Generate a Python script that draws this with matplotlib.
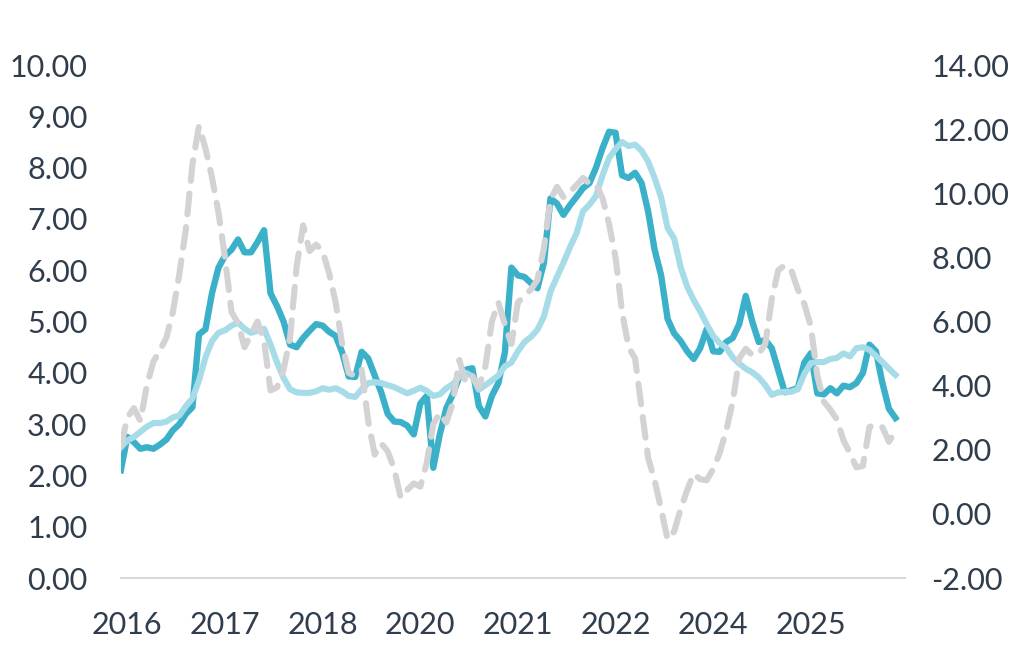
import matplotlib
matplotlib.use("Agg")
import matplotlib.pyplot as plt

# monthly series
teal = [2.10, 2.75, 2.65, 2.52, 2.55, 2.52, 2.60, 2.70, 2.88, 3.00,
        3.20, 3.33, 4.75, 4.85, 5.55, 6.05, 6.28, 6.40, 6.60, 6.35,
        6.35, 6.55, 6.78, 5.55, 5.30, 5.00, 4.55, 4.50, 4.68, 4.82,
        4.95, 4.92, 4.80, 4.72, 4.40, 3.93, 3.92, 4.41, 4.28, 3.95,
        3.62, 3.20, 3.05, 3.04, 2.97, 2.80, 3.40, 3.55, 2.15, 2.80,
        3.31, 3.58, 3.92, 4.06, 4.09, 3.35, 3.15, 3.55, 3.80, 4.40,
        6.05, 5.90, 5.87, 5.75, 5.65, 6.15, 7.40, 7.30, 7.08, 7.27,
        7.43, 7.60, 7.70, 8.00, 8.38, 8.70, 8.68, 7.85, 7.80, 7.90,
        7.70, 7.15, 6.40, 5.90, 5.05, 4.77, 4.62, 4.42, 4.27, 4.48,
        4.85, 4.42, 4.41, 4.60, 4.68, 4.95, 5.50, 5.00, 4.60, 4.64,
        4.48, 4.05, 3.62, 3.66, 3.70, 4.20, 4.38, 3.60, 3.58, 3.70,
        3.60, 3.75, 3.72, 3.80, 4.00, 4.55, 4.42, 3.80, 3.30, 3.12]

light = [2.55, 2.68, 2.75, 2.85, 2.95, 3.02, 3.02, 3.05, 3.13, 3.17,
         3.35, 3.50, 3.85, 4.30, 4.62, 4.78, 4.83, 4.92, 4.98, 4.86,
         4.78, 4.82, 4.86, 4.55, 4.20, 3.90, 3.68, 3.62, 3.61, 3.61,
         3.64, 3.70, 3.67, 3.70, 3.64, 3.55, 3.53, 3.68, 3.80, 3.82,
         3.80, 3.76, 3.72, 3.66, 3.60, 3.65, 3.71, 3.65, 3.55, 3.58,
         3.70, 3.78, 3.92, 4.00, 3.93, 3.67, 3.76, 3.85, 3.95, 4.13,
         4.20, 4.42, 4.60, 4.70, 4.84, 5.10, 5.58, 5.87, 6.15, 6.45,
         6.72, 7.15, 7.28, 7.45, 7.85, 8.19, 8.36, 8.50, 8.42, 8.45,
         8.33, 8.12, 7.80, 7.42, 6.82, 6.62, 6.06, 5.68, 5.42, 5.20,
         4.95, 4.72, 4.58, 4.49, 4.30, 4.18, 4.08, 4.01, 3.91, 3.76,
         3.57, 3.62, 3.63, 3.63, 3.68, 3.98, 4.19, 4.21, 4.21, 4.27,
         4.29, 4.38, 4.32, 4.48, 4.50, 4.45, 4.33, 4.21, 4.08, 3.96]

grey = [2.10, 3.00, 3.30, 2.90, 4.00, 4.75, 5.10, 5.50, 6.30, 7.50,
        8.90, 10.90, 12.10, 11.40, 10.50, 9.40, 8.00, 6.30, 5.95, 5.20,
        5.60, 6.00, 5.40, 3.85, 3.95, 4.50, 5.50, 7.70, 9.00, 8.20,
        8.40, 8.20, 7.50, 6.60, 5.30, 4.40, 4.30, 4.50, 2.90, 1.85,
        2.20, 1.95, 1.40, 0.50, 0.75, 0.95, 0.85, 1.60, 2.80, 3.15,
        2.85, 3.46, 4.80, 4.10, 4.30, 3.95, 4.60, 6.00, 6.60, 5.90,
        5.30, 6.60, 6.80, 7.00, 7.30, 8.30, 9.80, 10.20, 9.88, 10.05,
        10.25, 10.48, 10.30, 10.28, 9.85, 9.05, 8.00, 6.30, 5.20, 4.85,
        3.30, 1.75, 1.05, 0.15, -0.80, -0.55, 0.15, 0.74, 1.25, 1.08,
        1.05, 1.40, 1.90, 2.60, 3.50, 4.85, 5.15, 4.95, 5.00, 5.30,
        6.70, 7.60, 7.76, 7.60, 7.00, 6.55, 5.85, 4.30, 3.50, 3.25,
        2.95, 2.30, 1.90, 1.45, 1.50, 2.71, 2.80, 2.70, 2.25, 2.60]

year_labels = ["2016", "2017", "2018", "2020", "2021", "2022", "2024", "2025"]
label_pos = [1, 16, 31, 46, 61, 76, 91, 106]

text_color = "#2f3d4c"
plt.rcParams['font.family'] = ['Lato', 'DejaVu Sans']

fig = plt.figure(figsize=(10.24, 6.64), dpi=100)
ax = fig.add_axes([0.118, 0.1295, 0.766, 0.7725])
ax2 = ax.twinx()

x = list(range(len(teal)))
ax.plot(x, teal, color="#3bb1c9", lw=4.6, solid_joinstyle="round")
ax.plot(x, light, color="#a6dbe8", lw=4.4, solid_joinstyle="round")
# grey series on the right axis, drawn on top
ax2.plot(x, grey, color="#d3d3d5", lw=4.4, dashes=(3.4, 2.1),
         dash_capstyle="round", dash_joinstyle="round")

ax.set_xlim(0, 120.5)
ax.set_ylim(0, 10)
ax2.set_ylim(-2, 14)
ax.set_yticks(range(0, 11))
ax.set_yticklabels([f"{v:.2f}" for v in range(0, 11)])
ax2.set_yticks(range(-2, 15, 2))
ax2.set_yticklabels([f"{v:.2f}" for v in range(-2, 15, 2)])
ax.set_xticks(label_pos)
ax.set_xticklabels(year_labels)

for a in (ax, ax2):
    for s in a.spines.values():
        s.set_visible(False)
    a.tick_params(length=0, labelsize=22, labelcolor=text_color)
ax.spines['bottom'].set_visible(True)
ax.spines['bottom'].set_color("#d9d9d9")
ax.spines['bottom'].set_linewidth(1.5)
ax.tick_params(axis='x', pad=24)
ax.tick_params(axis='y', pad=24)
ax2.tick_params(axis='y', pad=19)

fig.savefig("out.png", dpi=100)
